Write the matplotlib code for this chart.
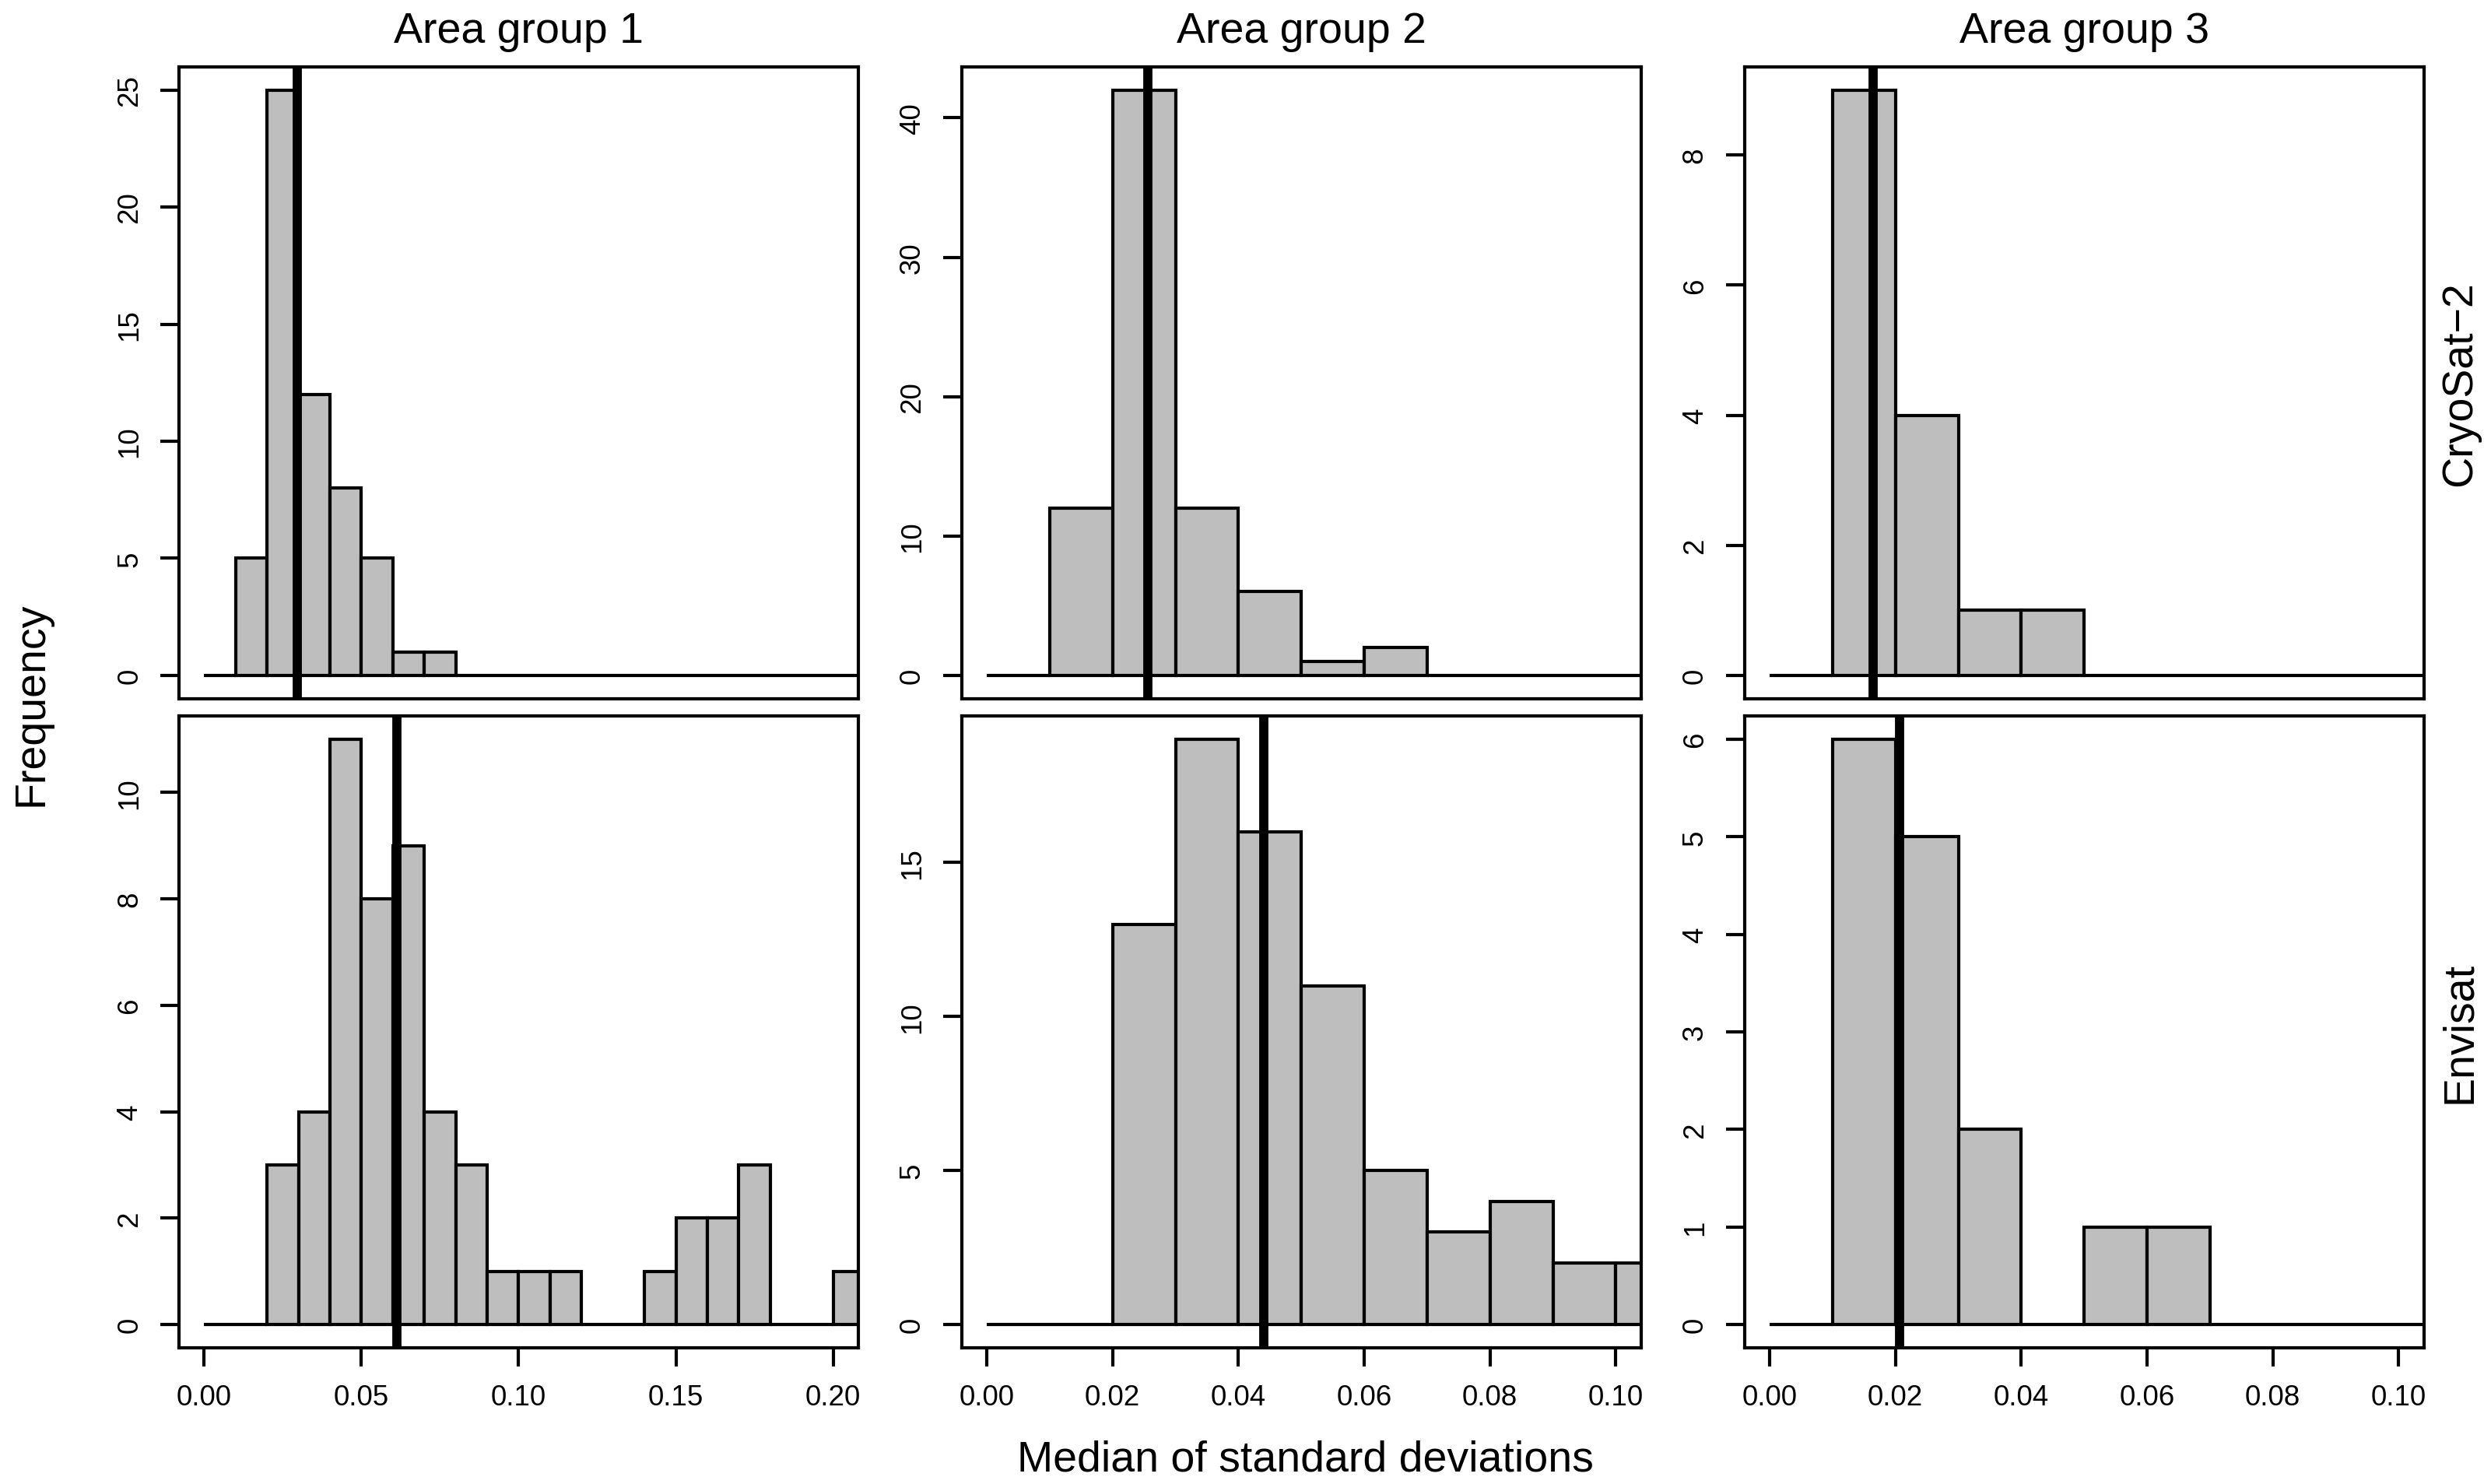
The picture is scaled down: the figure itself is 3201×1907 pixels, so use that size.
import matplotlib.pyplot as plt
import numpy as np

plt.rcParams['font.family'] = ['Liberation Sans', 'DejaVu Sans']

# histogram counts, one value per 0.01 wide bin starting at 0
bin_width = 0.01
groups = ["Area group 1", "Area group 2", "Area group 3"]
missions = ["CryoSat\u22122", "Envisat"]

cryosat_g1 = [0, 5, 25, 12, 8, 5, 1, 1, 0, 0, 0, 0, 0, 0, 0, 0, 0, 0, 0, 0, 0, 0]
cryosat_g2 = [0, 12, 42, 12, 6, 1, 2, 0, 0, 0, 0]
cryosat_g3 = [0, 9, 4, 1, 1, 0, 0, 0, 0, 0, 0]
envisat_g1 = [0, 0, 3, 4, 11, 8, 9, 4, 3, 1, 1, 1, 0, 0, 1, 2, 2, 3, 0, 0, 1, 0]
envisat_g2 = [0, 0, 13, 19, 16, 11, 5, 3, 4, 2, 2]
envisat_g3 = [0, 6, 5, 2, 0, 1, 1, 0, 0, 0, 0]

counts = [[cryosat_g1, cryosat_g2, cryosat_g3],
          [envisat_g1, envisat_g2, envisat_g3]]

# median of each distribution (thick vertical line)
medians = [[0.0296, 0.0256, 0.0164],
           [0.0612, 0.0440, 0.0206]]

x_max = [0.20, 0.10, 0.10]
x_step = [0.05, 0.02, 0.02]
y_step = [[5, 10, 2],
          [2, 5, 1]]

fig = plt.figure(figsize=(32.01, 19.08), dpi=100)

lefts = [0.07185, 0.38604, 0.70031]
bottoms = [0.52883, 0.09156]
w, h = 0.27273, 0.4258
lw = 3.0

for r in range(2):
    for c in range(3):
        ax = fig.add_axes([lefts[c], bottoms[r], w, h])
        cnt = np.array(counts[r][c])
        edges = np.arange(len(cnt)) * bin_width
        ax.bar(edges, cnt, width=bin_width, align='edge', color='#bebebe',
               edgecolor='black', linewidth=lw, zorder=2)
        ax.axvline(medians[r][c], color='black', linewidth=8.5, zorder=3)

        # R style 4% padding around the data range
        xr = x_max[c]
        ax.set_xlim(-0.04 * xr, xr * 1.04)
        ym = cnt.max()
        ax.set_ylim(-0.04 * ym, ym * 1.04)

        yt = np.arange(0, ym + 0.001, y_step[r][c])
        ax.set_yticks(yt)
        ax.set_yticklabels([str(int(v)) for v in yt], rotation=90, va='center')

        if r == 1:
            xt = np.arange(0, xr + 1e-9, x_step[c])
            ax.set_xticks(xt)
            ax.set_xticklabels(["%.2f" % v for v in xt])
        else:
            ax.set_xticks([])

        ax.tick_params(axis='both', direction='out', length=17, width=lw,
                       labelsize=26.5, pad=16)
        for s in ax.spines.values():
            s.set_linewidth(lw)

        if r == 0:
            fig.text(lefts[c] + w / 2, 0.9712, groups[c], ha='center',
                     va='baseline', fontsize=40)

for r in range(2):
    fig.text(0.9875, bottoms[r] + h / 2, missions[r], rotation=90,
             ha='center', va='center', fontsize=40)

fig.text(0.0128, 0.5257, "Frequency", rotation=90, ha='center', va='center',
         fontsize=40)
fig.text(0.524, 0.0094, "Median of standard deviations", ha='center',
         va='baseline', fontsize=40)

fig.savefig('out.png', dpi=100)
